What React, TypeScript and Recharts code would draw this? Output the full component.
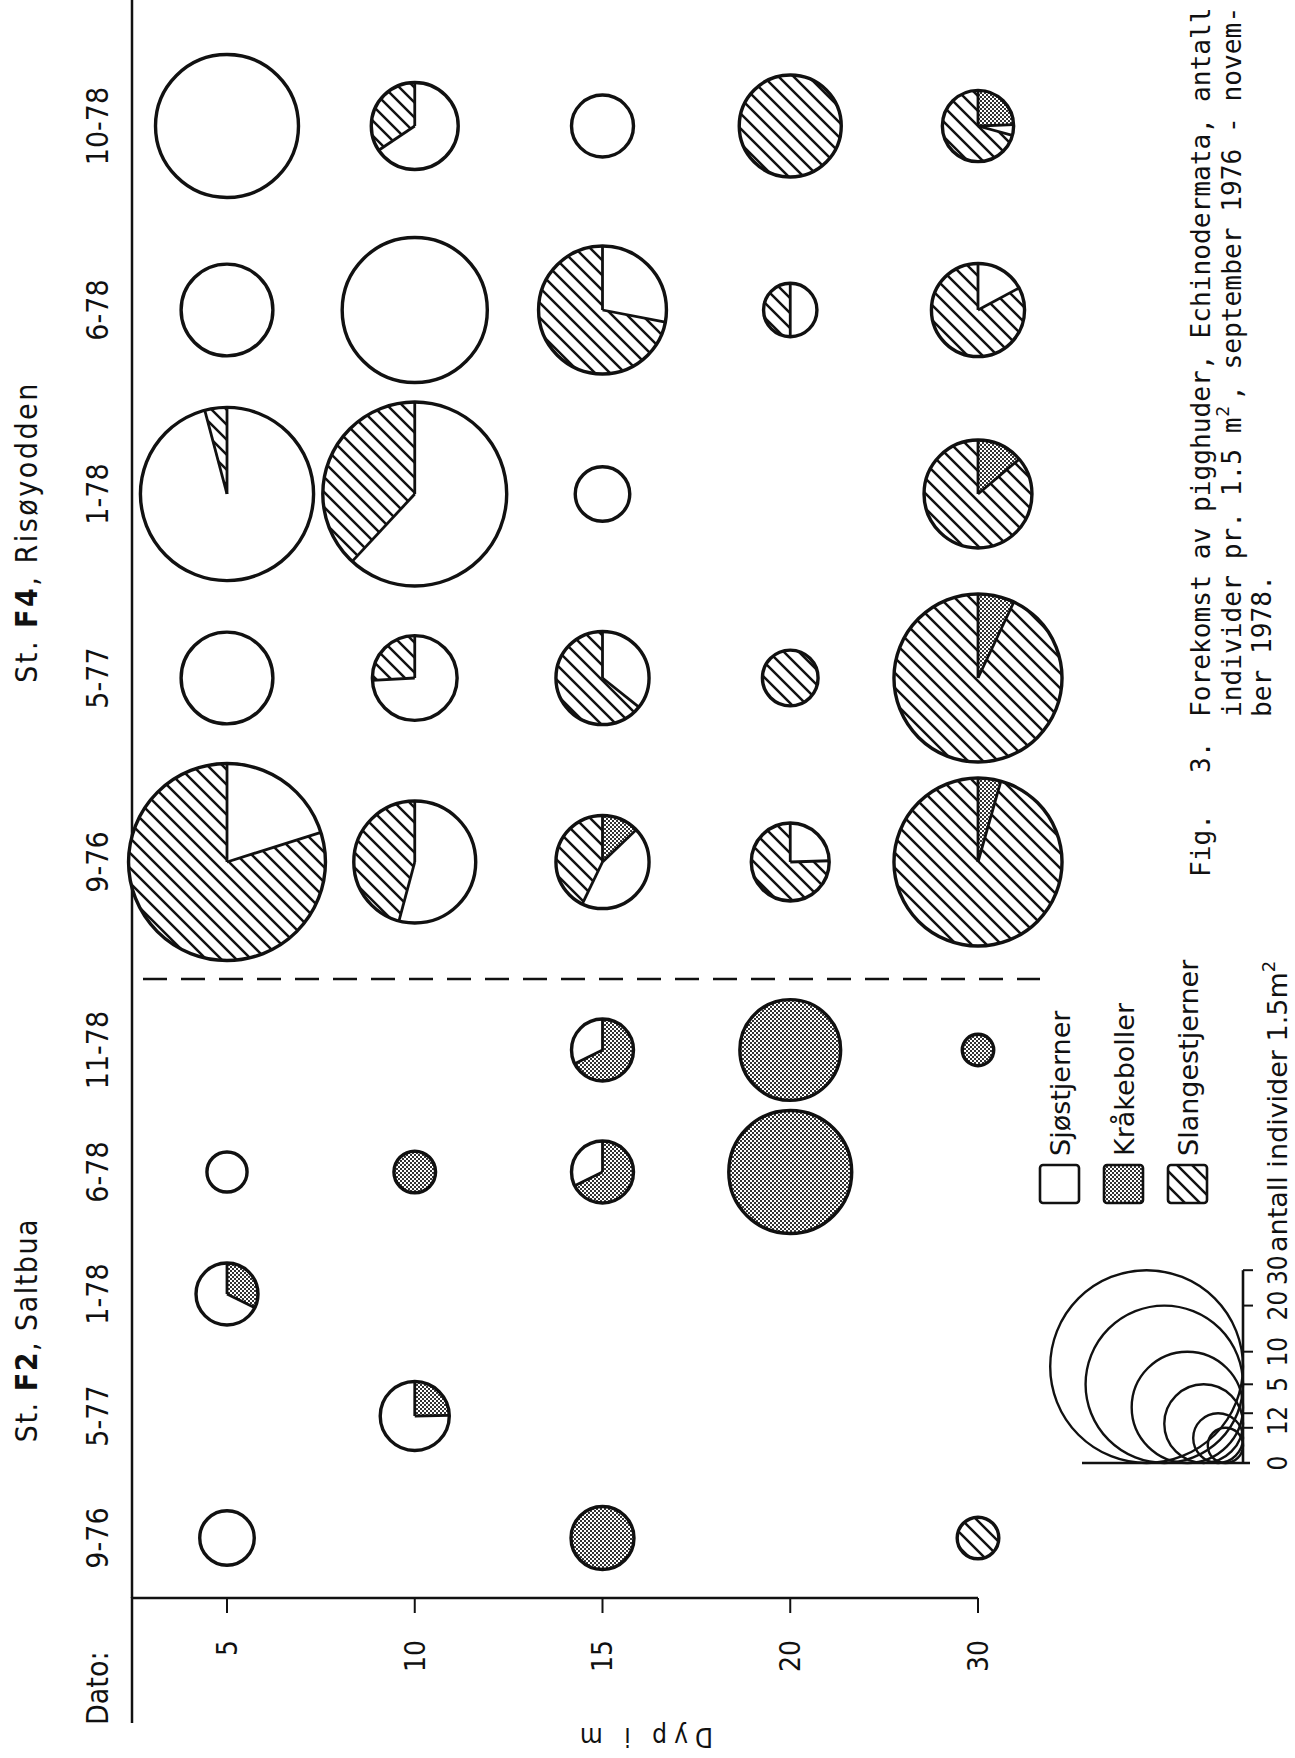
import React from "react";
import { ScatterChart, Scatter, XAxis, YAxis, ZAxis } from "recharts";

// natural (unrotated) size; the whole figure is turned 90° like the printed page
const W = 1758;
const H = 1295;
const INK = "#111";
const COND = "'DejaVu Sans Condensed', 'DejaVu Sans', sans-serif";
const SANS = "'DejaVu Sans', sans-serif";
const MONO = "'DejaVu Sans Mono', 'Liberation Mono', monospace";
const PITCH = 15.8; // typewriter character pitch in the caption

const F2_DATES = ["9-76", "5-77", "1-78", "6-78", "11-78"];
const F4_DATES = ["9-76", "5-77", "1-78", "6-78", "10-78"];
const DEPTHS = ["5", "10", "15", "20", "30"];

// antall individer pr. 1.5 m2 — rad = dato, kolonne = dyp (5, 10, 15, 20, 30 m)
const F2_SJOSTJERNER = [
  [2.4, 0, 0, 0, 0],
  [0, 2.9, 0, 0, 0],
  [2.1, 0, 0, 0, 0],
  [1.3, 0, 1.0, 0, 0],
  [0, 0, 1.0, 0, 0],
];
const F2_KRAKEBOLLER = [
  [0, 0, 3.2, 0, 0],
  [0, 0.95, 0, 0, 0],
  [1.0, 0, 0, 0, 0],
  [0, 1.4, 2.1, 12.2, 0],
  [0, 0, 2.1, 8.2, 0.8],
];
const F2_SLANGESTJERNER = [
  [0, 0, 0, 0, 1.4],
  [0, 0, 0, 0, 0],
  [0, 0, 0, 0, 0],
  [0, 0, 0, 0, 0],
  [0, 0, 0, 0, 0],
];

const F4_SJOSTJERNER = [
  [6.3, 6.5, 3.1, 1.2, 0],
  [6.8, 4.3, 2.5, 0, 0],
  [23.2, 16.9, 2.4, 0, 0],
  [6.8, 17.0, 3.7, 1.15, 1.2],
  [16.5, 4.0, 3.1, 0, 0.2],
];
const F4_KRAKEBOLLER = [
  [0, 0, 0.9, 0, 1.0],
  [0, 0, 0, 0, 1.6],
  [0, 0, 0, 0, 1.3],
  [0, 0, 0, 0, 0],
  [0, 0, 0, 0, 1.0],
];
const F4_SLANGESTJERNER = [
  [25.0, 5.5, 3.0, 3.7, 21.8],
  [0, 1.5, 4.5, 2.5, 21.2],
  [1.0, 10.4, 0, 0, 8.1],
  [0, 0, 9.5, 1.15, 5.8],
  [0, 2.1, 0, 8.4, 2.9],
];

const SCALE_VALUES = [0, 1, 2, 5, 10, 20, 30];
const SPECIES = ["Sjøstjerner", "Kråkeboller", "Slangestjerner"];

// circle radius grows with sqrt(antall)
const R_UNIT = 17.6;
const Z_MAX = 40;
const radiusFor = (v: number) => R_UNIT * Math.sqrt(v);

const toPoints = (sj: number[][], kr: number[][], sl: number[][]) => {
  const pts: any[] = [];
  sj.forEach((row, di) =>
    row.forEach((_, pi) => {
      const total = sj[di][pi] + kr[di][pi] + sl[di][pi];
      if (total > 0) {
        pts.push({ date: di, depth: pi, total, sj: sj[di][pi], kr: kr[di][pi], sl: sl[di][pi] });
      }
    })
  );
  return pts;
};

const f2Points = toPoints(F2_SJOSTJERNER, F2_KRAKEBOLLER, F2_SLANGESTJERNER);
const f4Points = toPoints(F4_SJOSTJERNER, F4_KRAKEBOLLER, F4_SLANGESTJERNER);

const arc = (cx: number, cy: number, r: number, a0: number, a1: number) => {
  const x0 = cx + r * Math.cos(a0);
  const y0 = cy + r * Math.sin(a0);
  const x1 = cx + r * Math.cos(a1);
  const y1 = cy + r * Math.sin(a1);
  const large = a1 - a0 > Math.PI ? 1 : 0;
  return `M${cx},${cy} L${x0},${y0} A${r},${r} 0 ${large} 1 ${x1},${y1} Z`;
};

// one pie per sample: kråkeboller, sjøstjerner, slangestjerner, clockwise
const PieMark = (props: any) => {
  const { cx, cy, size } = props;
  const p = props.payload ?? props;
  const r = Math.sqrt(size / Math.PI);
  const parts = [
    { v: p.kr, fill: "url(#stipple)" },
    { v: p.sj, fill: "#fff" },
    { v: p.sl, fill: "url(#hatch)" },
  ].filter((s) => s.v > 0);
  const total = parts.reduce((a, s) => a + s.v, 0);
  let a = 0;
  const slices: any[] = [];
  const edges: number[] = [];
  parts.forEach((s, i) => {
    const a1 = a + (s.v / total) * 2 * Math.PI;
    if (parts.length === 1) {
      slices.push(<circle key={i} cx={cx} cy={cy} r={r} fill={s.fill} />);
    } else {
      slices.push(<path key={i} d={arc(cx, cy, r, a, a1)} fill={s.fill} />);
      edges.push(a);
    }
    a = a1;
  });
  return (
    <g>
      {slices}
      {edges.map((e, i) => (
        <line
          key={"e" + i}
          x1={cx}
          y1={cy}
          x2={cx + r * Math.cos(e)}
          y2={cy + r * Math.sin(e)}
          stroke={INK}
          strokeWidth={2.8}
        />
      ))}
      <circle cx={cx} cy={cy} r={r} fill="none" stroke={INK} strokeWidth={3.4} />
    </g>
  );
};

// typewriter caption text, one character per PITCH
const Mono = ({ x, y, s, size = 26.2 }: { x: number; y: number; s: string; size?: number }) => (
  <text x={x} y={y} fontFamily={MONO} fontSize={size} fill={INK}>
    {s}
  </text>
);

const tickIdx = [0, 1, 2, 3, 4];

const Overlay = () => {
  const baseX = 295;
  const baseY = 1243;
  const capX = 1041;
  const line2a = "individer pr. 1.5 m";
  return (
    <svg width={W} height={H} style={{ position: "absolute", left: 0, top: 0, pointerEvents: "none" }}>
      <defs>
        <pattern id="hatch" patternUnits="userSpaceOnUse" width="15" height="15">
          <rect width="15" height="15" fill="#fff" />
          <path d="M-3,3 L3,-3 M0,15 L15,0 M12,18 L18,12" stroke={INK} strokeWidth="2.5" />
        </pattern>
        <pattern id="stipple" patternUnits="userSpaceOnUse" width="4" height="4">
          <rect width="4" height="4" fill="#fff" />
          <rect width="2" height="2" fill="#333" />
          <rect x="2" y="2" width="2" height="2" fill="#333" />
        </pattern>
      </defs>

      {/* headers */}
      <text x={428} y={37} textAnchor="middle" fontFamily={COND} fontSize={30} fill={INK} letterSpacing={1.5}>
        St. <tspan fontWeight="bold">F2</tspan>, Saltbua
      </text>
      <text x={1226} y={37} textAnchor="middle" fontFamily={COND} fontSize={30} fill={INK} letterSpacing={2.5}>
        St. <tspan fontWeight="bold">F4</tspan>, Risøyodden
      </text>
      <text x={33} y={108} fontFamily={COND} fontSize={30} fill={INK}>
        Dato:
      </text>
      <line x1={35} y1={132} x2={161} y2={132} stroke={INK} strokeWidth={2.5} />
      <text transform="translate(30,643) rotate(-90)" textAnchor="middle" fontFamily={COND} fontSize={26} fill={INK} letterSpacing={7}>
        Dyp i m
      </text>

      {/* station divider */}
      <line x1={779} y1={143} x2={779} y2={1040} stroke={INK} strokeWidth={2.5} strokeDasharray="24 14" />

      {/* species legend */}
      {SPECIES.map((s, i) => {
        const y = 1040 + i * 64;
        const fill = i === 0 ? "#fff" : i === 1 ? "url(#stipple)" : "url(#hatch)";
        return (
          <g key={s}>
            <rect x={555} y={y} width={38} height={39} rx={3} fill={fill} stroke={INK} strokeWidth={2.6} />
            <text x={602} y={y + 30} fontFamily={SANS} fontSize={27} fill={INK}>
              {s}
            </text>
          </g>
        );
      })}

      {/* size scale */}
      {SCALE_VALUES.filter((v) => v > 0).map((v) => {
        const r = radiusFor(v);
        return <circle key={v} cx={baseX + r} cy={baseY - r} r={r} fill="none" stroke={INK} strokeWidth={2.4} />;
      })}
      <line x1={baseX} y1={baseY} x2={baseX + 2 * radiusFor(30)} y2={baseY} stroke={INK} strokeWidth={2.6} />
      <line x1={baseX} y1={1082} x2={baseX} y2={1250} stroke={INK} strokeWidth={2.6} />
      {SCALE_VALUES.map((v) => {
        const x = baseX + 2 * radiusFor(v);
        return (
          <g key={"t" + v}>
            {v > 0 && <line x1={x} y1={baseY} x2={x} y2={baseY + 10} stroke={INK} strokeWidth={2} />}
            <text x={x} y={baseY + 44} textAnchor="middle" fontFamily={COND} fontSize={26} fill={INK}>
              {v}
            </text>
          </g>
        );
      })}
      <text x={506} y={baseY + 44} fontFamily={SANS} fontSize={27} fill={INK}>
        antall individer 1.5m<tspan dy={-12} fontSize={18}>2</tspan>
      </text>

      {/* caption */}
      <Mono x={881} y={1210} s="Fig." />
      <Mono x={985} y={1210} s="3." />
      <Mono x={capX} y={1210} s="Forekomst av pigghuder, Echinodermata, antall" />
      <Mono x={capX} y={1241} s={line2a} />
      <Mono x={capX + line2a.length * PITCH} y={1229} s="2" size={18} />
      <Mono x={capX + (line2a.length + 1) * PITCH} y={1241} s=", september 1976 - novem-" />
      <Mono x={capX} y={1271} s="ber 1978." />
    </svg>
  );
};

const axisLine = { stroke: INK, strokeWidth: 2.5 };
const dateTick = { fill: INK, fontSize: 30, fontFamily: COND };

export default function App() {
  return (
    <div
      style={{
        position: "absolute",
        left: 0,
        top: 0,
        width: W,
        height: H,
        background: "#fff",
        transformOrigin: "0 0",
        transform: `translate(0px, ${W}px) rotate(-90deg)`,
      }}
    >
      <ScatterChart width={W} height={H} margin={{ top: 130, right: 0, bottom: H - 978, left: 159 }}>
        <XAxis
          xAxisId="f2"
          type="number"
          dataKey="date"
          orientation="top"
          height={1}
          domain={[0, 4]}
          ticks={tickIdx}
          interval={0}
          tickFormatter={(i: number) => F2_DATES[i]}
          padding={{ left: 60, right: 1050 }}
          axisLine={axisLine}
          tickLine={false}
          tickSize={0}
          tickMargin={24}
          tick={dateTick}
        />
        <XAxis
          xAxisId="f4"
          type="number"
          dataKey="date"
          orientation="top"
          height={1}
          domain={[0, 4]}
          ticks={tickIdx}
          interval={0}
          tickFormatter={(i: number) => F4_DATES[i]}
          padding={{ left: 736, right: 126 }}
          axisLine={false}
          tickLine={false}
          tickSize={0}
          tickMargin={23}
          tick={dateTick}
        />
        <YAxis
          yAxisId="d"
          type="number"
          dataKey="depth"
          domain={[0, 4]}
          ticks={tickIdx}
          interval={0}
          reversed
          width={1}
          padding={{ top: 95, bottom: 0 }}
          tickFormatter={(i: number) => DEPTHS[i]}
          axisLine={axisLine}
          tickLine={{ stroke: INK, strokeWidth: 2 }}
          tickSize={15}
          tickMargin={27}
          tick={{ fill: INK, fontSize: 28, fontFamily: COND }}
        />
        <ZAxis zAxisId="z" type="number" dataKey="total" domain={[0, Z_MAX]} range={[0, Math.PI * R_UNIT * R_UNIT * Z_MAX]} />
        <Scatter data={f2Points} xAxisId="f2" yAxisId="d" zAxisId="z" shape={PieMark} isAnimationActive={false} />
        <Scatter data={f4Points} xAxisId="f4" yAxisId="d" zAxisId="z" shape={PieMark} isAnimationActive={false} />
      </ScatterChart>
      <Overlay />
    </div>
  );
}
